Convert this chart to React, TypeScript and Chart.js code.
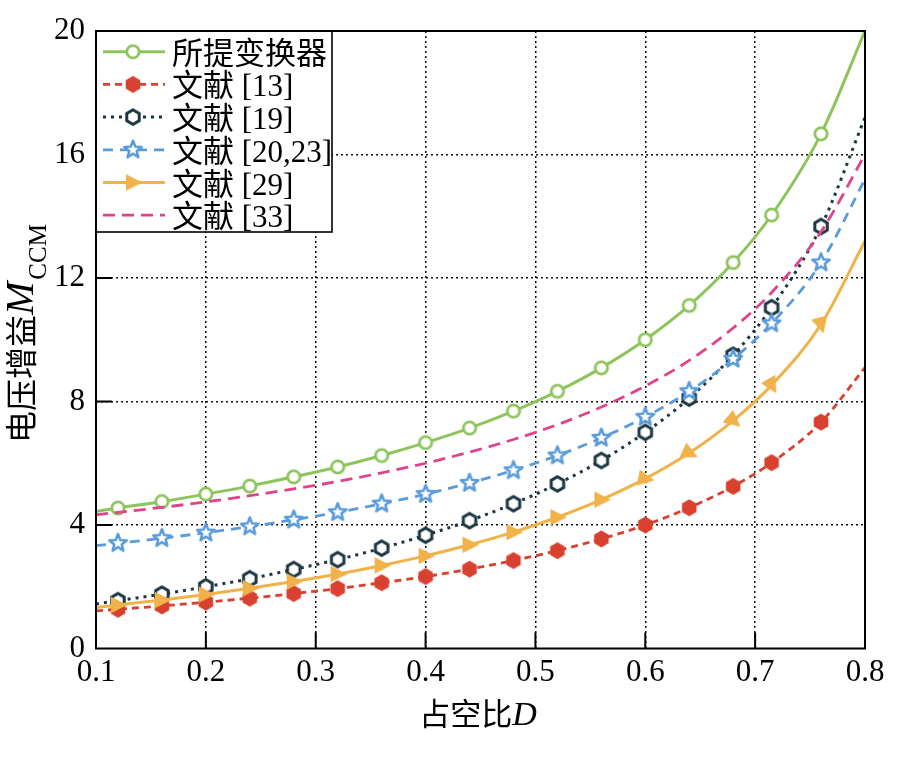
import React, { useEffect, useRef } from "react";
import { Chart, registerables } from "chart.js";

Chart.register(...registerables);

// ---- data ----
const dutyRatio = [0.1, 0.12, 0.16, 0.2, 0.24, 0.28, 0.32, 0.36, 0.4, 0.44, 0.48, 0.52, 0.56, 0.6, 0.64, 0.68, 0.715, 0.76, 0.8];
const gainProposed = [4.44, 4.55, 4.76, 5.0, 5.26, 5.56, 5.88, 6.25, 6.67, 7.14, 7.69, 8.33, 9.09, 10.0, 11.11, 12.5, 14.04, 16.67, 20.0];
const gainRef13 = [1.22, 1.27, 1.38, 1.5, 1.63, 1.78, 1.94, 2.13, 2.33, 2.57, 2.85, 3.17, 3.55, 4.0, 4.56, 5.25, 6.02, 7.33, 9.1];
const gainRef19 = [1.44, 1.55, 1.76, 2.0, 2.26, 2.56, 2.88, 3.25, 3.67, 4.14, 4.69, 5.33, 6.09, 7.0, 8.11, 9.5, 11.04, 13.67, 17.2];
const gainRef2023 = [3.33, 3.41, 3.57, 3.75, 3.95, 4.17, 4.41, 4.69, 5.0, 5.36, 5.77, 6.25, 6.82, 7.5, 8.33, 9.38, 10.53, 12.5, 15.2];
const gainRef29 = [1.33, 1.41, 1.57, 1.75, 1.95, 2.17, 2.41, 2.69, 3.0, 3.36, 3.77, 4.25, 4.82, 5.5, 6.33, 7.38, 8.53, 10.5, 13.2];
const gainRef33 = [4.33, 4.41, 4.57, 4.75, 4.95, 5.17, 5.41, 5.69, 6.0, 6.36, 6.77, 7.25, 7.82, 8.5, 9.33, 10.38, 11.53, 13.5, 16.0];

const seriesLabels = ["所提变换器", "文献 [13]", "文献 [19]", "文献 [20,23]", "文献 [29]", "文献 [33]"];
const xTicks = [0.1, 0.2, 0.3, 0.4, 0.5, 0.6, 0.7, 0.8];
const yTicks = [0, 4, 8, 12, 16, 20];
const xTitleMain = "占空比";
const xTitleVar = "D";
const yTitleMain = "电压增益";
const yTitleVar = "M";
const yTitleSub = "CCM";

// triangle marker orientation (degrees) per point of 文献 [29]
const triRotation = [0, 0, 0, 0, 0, 0, 0, 0, 0, 0, 0, 0, 0, 10, 25, 40, 60, 75, 0];

const SERIF = '"Liberation Serif", "Times New Roman", serif';
const CJK = '"Noto Sans CJK SC", sans-serif';

type Style = { color: string; dash: number[]; width: number; marker: string | null };
const styles: Style[] = [
  { color: "#8DC55C", dash: [], width: 3, marker: "circle" },
  { color: "#D8412F", dash: [7, 5], width: 2.8, marker: "hexFill" },
  { color: "#1C3742", dash: [3, 5], width: 3, marker: "hexOpen" },
  { color: "#5A9BDB", dash: [10, 7], width: 2.8, marker: "star" },
  { color: "#F1B24A", dash: [], width: 3, marker: "tri" },
  { color: "#E0438B", dash: [12, 7], width: 2.8, marker: null },
];
const seriesData = [gainProposed, gainRef13, gainRef19, gainRef2023, gainRef29, gainRef33];

function makeMarker(kind: string, color: string): HTMLCanvasElement {
  const c = document.createElement("canvas");
  c.width = 26;
  c.height = 26;
  const g = c.getContext("2d")!;
  g.translate(13, 13);
  g.lineJoin = "miter";
  if (kind === "circle") {
    g.beginPath();
    g.arc(0, 0, 6.2, 0, Math.PI * 2);
    g.fillStyle = "#fff";
    g.fill();
    g.lineWidth = 2.8;
    g.strokeStyle = color;
    g.stroke();
  } else if (kind === "hexFill" || kind === "hexOpen") {
    const R = kind === "hexFill" ? 8.4 : 7.2;
    g.beginPath();
    for (let k = 0; k < 6; k++) {
      const a = -Math.PI / 2 + (k * Math.PI) / 3;
      const px = R * Math.cos(a);
      const py = R * Math.sin(a);
      if (k === 0) g.moveTo(px, py);
      else g.lineTo(px, py);
    }
    g.closePath();
    if (kind === "hexFill") {
      g.fillStyle = color;
      g.fill();
    } else {
      g.fillStyle = "#fff";
      g.fill();
      g.lineWidth = 3;
      g.strokeStyle = color;
      g.stroke();
    }
  } else if (kind === "star") {
    const Ro = 9.2;
    const Ri = 3.9;
    g.beginPath();
    for (let k = 0; k < 10; k++) {
      const r = k % 2 === 0 ? Ro : Ri;
      const a = -Math.PI / 2 + (k * Math.PI) / 5;
      const px = r * Math.cos(a);
      const py = r * Math.sin(a);
      if (k === 0) g.moveTo(px, py);
      else g.lineTo(px, py);
    }
    g.closePath();
    g.fillStyle = "#fff";
    g.fill();
    g.lineJoin = "round";
    g.lineWidth = 2.5;
    g.strokeStyle = color;
    g.stroke();
  } else if (kind === "tri") {
    g.beginPath();
    g.moveTo(9.5, 0);
    g.lineTo(-7, -8.2);
    g.lineTo(-7, 8.2);
    g.closePath();
    g.fillStyle = color;
    g.fill();
  }
  return c;
}

export default function App() {
  const ref = useRef<HTMLCanvasElement | null>(null);

  useEffect(() => {
    const canvas = ref.current;
    if (!canvas) return;
    const markers = styles.map((s) => (s.marker ? makeMarker(s.marker, s.color) : null));
    const last = dutyRatio.length - 1;

    const datasets = seriesData.map((arr, idx) => {
      const s = styles[idx];
      return {
        label: seriesLabels[idx],
        data: dutyRatio.map((x, i) => ({ x, y: arr[i] })),
        borderColor: s.color,
        backgroundColor: s.color,
        borderWidth: s.width,
        borderDash: s.dash,
        borderCapStyle: "butt" as const,
        pointStyle: (markers[idx] || "circle") as any,
        pointRadius: s.marker ? dutyRatio.map((_, i) => (i === 0 || i === last ? 0 : 6)) : 0,
        pointRotation: s.marker === "tri" ? triRotation : 0,
        pointBorderWidth: 0,
        cubicInterpolationMode: "monotone" as const,
        fill: false,
        order: 6 - idx,
      };
    });

    const framePlugin = {
      id: "frame",
      afterDatasetsDraw(chart: any) {
        const { ctx, chartArea: a, scales } = chart;
        const xs = scales.x;
        const ys = scales.y;
        ctx.save();
        ctx.setLineDash([]);
        // inward ticks
        ctx.strokeStyle = "#000";
        ctx.lineWidth = 2;
        ctx.beginPath();
        xTicks.slice(1, -1).forEach((v) => {
          const px = xs.getPixelForValue(v);
          ctx.moveTo(px, a.bottom);
          ctx.lineTo(px, a.bottom - 16);
        });
        yTicks.slice(1, -1).forEach((v) => {
          const py = ys.getPixelForValue(v);
          ctx.moveTo(a.left, py);
          ctx.lineTo(a.left + 16, py);
        });
        ctx.stroke();

        // legend
        const lx = a.left;
        const ly = a.top;
        const lw = 236;
        const lh = 201;
        ctx.fillStyle = "#fff";
        ctx.fillRect(lx, ly, lw, lh);
        ctx.lineWidth = 1.6;
        ctx.strokeStyle = "#000";
        ctx.strokeRect(lx, ly, lw, lh);
        seriesLabels.forEach((label, i) => {
          const s = styles[i];
          const ry = ly + 20.7 + i * 32.7;
          ctx.save();
          ctx.strokeStyle = s.color;
          ctx.lineWidth = s.width;
          ctx.setLineDash(s.dash);
          ctx.beginPath();
          ctx.moveTo(lx + 7, ry);
          ctx.lineTo(lx + 69, ry);
          ctx.stroke();
          ctx.restore();
          const m = markers[i];
          if (m) ctx.drawImage(m, lx + 37 - m.width / 2, ry - m.height / 2);
          ctx.fillStyle = "#000";
          ctx.font = `31px "Liberation Serif", ${CJK}`;
          ctx.textBaseline = "alphabetic";
          ctx.textAlign = "left";
          ctx.fillText(label, lx + 76, ry + 12);
        });

        // plot frame
        ctx.lineWidth = 2;
        ctx.strokeStyle = "#000";
        ctx.strokeRect(a.left, a.top, a.right - a.left, a.bottom - a.top);

        // x title
        ctx.fillStyle = "#000";
        ctx.textBaseline = "alphabetic";
        ctx.textAlign = "left";
        ctx.font = `31px ${CJK}`;
        const w1 = ctx.measureText(xTitleMain).width;
        ctx.font = `italic 34px ${SERIF}`;
        const w2 = ctx.measureText(xTitleVar).width;
        const xStart = 478 - (w1 + w2) / 2;
        ctx.font = `31px ${CJK}`;
        ctx.fillText(xTitleMain, xStart, 725);
        ctx.font = `italic 34px ${SERIF}`;
        ctx.fillText(xTitleVar, xStart + w1, 725);

        // y title (rotated)
        ctx.save();
        ctx.translate(0, 443);
        ctx.rotate(-Math.PI / 2);
        ctx.font = `32px ${CJK}`;
        ctx.fillText(yTitleMain, 0, 33);
        let off = ctx.measureText(yTitleMain).width;
        ctx.font = `italic 40px ${SERIF}`;
        ctx.fillText(yTitleVar, off, 33);
        off += ctx.measureText(yTitleVar).width + 2;
        ctx.font = `25px ${SERIF}`;
        ctx.fillText(yTitleSub, off, 46);
        ctx.restore();

        ctx.restore();
      },
    };

    const chart = new Chart(canvas, {
      type: "line",
      data: { datasets: datasets as any },
      options: {
        responsive: false,
        animation: false,
        events: [],
        layout: { padding: { top: 31, right: 38, left: 0, bottom: 0 } },
        plugins: { legend: { display: false }, tooltip: { enabled: false } },
        scales: {
          x: {
            type: "linear",
            min: 0.1,
            max: 0.8,
            afterBuildTicks: (s: any) => {
              s.ticks = xTicks.map((v) => ({ value: v }));
            },
            afterFit: (s: any) => {
              s.height = 109.5;
            },
            ticks: {
              autoSkip: false,
              maxRotation: 0,
              padding: 6,
              color: "#000",
              font: { family: SERIF, size: 31 },
              callback: (v: any) => Number(v).toFixed(1),
            },
            grid: {
              drawTicks: false,
              color: (c: any) => (c.tick && (c.tick.value <= 0.1001 || c.tick.value >= 0.7999) ? "rgba(0,0,0,0)" : "#111"),
              lineWidth: 1.5,
            },
            border: { display: false, dash: [2, 3] },
          },
          y: {
            type: "linear",
            min: 0,
            max: 20,
            afterBuildTicks: (s: any) => {
              s.ticks = yTicks.map((v) => ({ value: v }));
            },
            afterFit: (s: any) => {
              s.width = 96;
            },
            ticks: {
              padding: 11,
              color: "#000",
              font: { family: SERIF, size: 31 },
              callback: (v: any) => String(v),
            },
            grid: {
              drawTicks: false,
              color: (c: any) => (c.tick && (c.tick.value === 0 || c.tick.value === 20) ? "rgba(0,0,0,0)" : "#111"),
              lineWidth: 1.5,
            },
            border: { display: false, dash: [2, 3] },
          },
        },
      },
      plugins: [framePlugin],
    });
    return () => chart.destroy();
  }, []);

  return (
    <div style={{ position: "absolute", left: 0, top: 0, width: 903, height: 758, background: "#fff" }}>
      <canvas ref={ref} width={903} height={758} style={{ display: "block", width: 903, height: 758 }} />
    </div>
  );
}
